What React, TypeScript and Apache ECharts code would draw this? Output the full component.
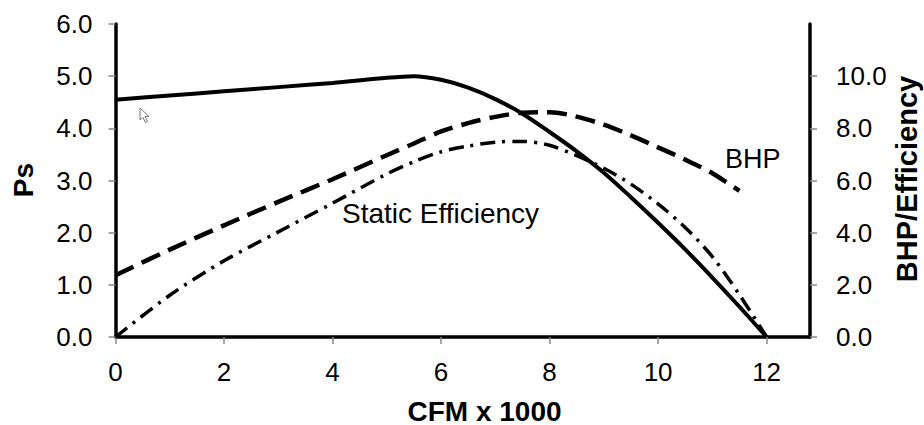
import React, { useEffect, useRef } from 'react';
import * as echarts from 'echarts';

const cfm = [0, 1, 2, 3, 4, 5, 5.5, 6, 6.5, 7, 7.5, 8, 8.5, 9, 9.5, 10, 10.5, 11, 11.5, 12];
const psValues = [4.55, 4.63, 4.71, 4.79, 4.87, 4.97, 5.0, 4.93, 4.78, 4.56, 4.28, 3.93, 3.56, 3.15, 2.68, 2.19, 1.68, 1.14, 0.58, 0];
const bhpValues = [2.37, 3.35, 4.28, 5.18, 6.05, 6.97, 7.42, 7.88, 8.2, 8.44, 8.6, 8.62, 8.45, 8.14, 7.73, 7.27, 6.8, 6.28, 5.6];
const effValues = [0, 1.6, 2.92, 4.03, 5.13, 6.25, 6.72, 7.1, 7.32, 7.47, 7.5, 7.35, 6.95, 6.47, 5.86, 5.1, 4.2, 3.08, 1.62, 0];
const xTicks = [0, 2, 4, 6, 8, 10, 12];
const rightTicks = [0, 2, 4, 6, 8, 10];

const FONT = '"Liberation Sans", Arial, sans-serif';

export default function App() {
  const ref = useRef<HTMLDivElement>(null);
  useEffect(() => {
    if (!ref.current) return;
    const chart = echarts.init(ref.current, null, { renderer: 'svg' });
    const pair = (vals: number[]) => vals.map((v, i) => [cfm[i], v]);
    const tickStyle = { show: true, length: 7, lineStyle: { color: '#888', width: 1.5 } };
    const lineAxis = { show: true, lineStyle: { color: '#000', width: 3.5 } };
    const labelBase = { fontSize: 26, color: '#000', fontFamily: FONT };
    chart.setOption({
      animation: false,
      backgroundColor: '#fff',
      grid: { left: 115.5, right: 114, top: 24, bottom: 88 },
      xAxis: {
        type: 'value', min: 0, max: 12.8, interval: 2,
        axisLine: lineAxis,
        axisTick: { ...tickStyle, customValues: xTicks },
        axisLabel: { ...labelBase, margin: 22, customValues: xTicks },
        splitLine: { show: false },
      },
      yAxis: [
        {
          type: 'value', min: 0, max: 6, interval: 1, position: 'left',
          axisLine: lineAxis,
          axisTick: tickStyle,
          axisLabel: { ...labelBase, margin: 23, formatter: (v: number) => v.toFixed(1) },
          splitLine: { show: false },
        },
        {
          type: 'value', min: 0, max: 12, interval: 2, position: 'right',
          axisLine: lineAxis,
          axisTick: { ...tickStyle, customValues: rightTicks },
          axisLabel: { ...labelBase, margin: 26, customValues: rightTicks, formatter: (v: number) => v.toFixed(1) },
          splitLine: { show: false },
        },
      ],
      series: [
        {
          name: 'BHP', type: 'line', yAxisIndex: 1, data: pair(bhpValues), smooth: 0.3,
          showSymbol: false, lineStyle: { color: '#000', width: 4.5, type: [20, 9] }, z: 2,
        },
        {
          name: 'Static Efficiency', type: 'line', yAxisIndex: 1, data: pair(effValues), smooth: 0.3,
          showSymbol: false, lineStyle: { color: '#000', width: 3.5, type: [15, 7, 3, 7] }, z: 2,
        },
        {
          name: 'Ps', type: 'line', yAxisIndex: 0, data: pair(psValues), smooth: 0.3,
          showSymbol: false, lineStyle: { color: '#000', width: 4 }, z: 3,
        },
      ],
      graphic: [
        { type: 'text', x: 342, y: 213, style: { text: 'Static Efficiency', font: `28px ${FONT}`, fill: '#000', textAlign: 'left', textVerticalAlign: 'middle' } },
        { type: 'text', x: 725, y: 159, style: { text: 'BHP', font: `27px ${FONT}`, fill: '#000', textAlign: 'left', textVerticalAlign: 'middle' } },
        { type: 'text', x: 484.5, y: 411, style: { text: 'CFM x 1000', font: `bold 28px ${FONT}`, fill: '#000', textAlign: 'center', textVerticalAlign: 'middle' } },
        { type: 'text', x: 23, y: 180, rotation: Math.PI / 2, style: { text: 'Ps', font: `bold 28px ${FONT}`, fill: '#000', textAlign: 'center', textVerticalAlign: 'middle' } },
        { type: 'text', x: 907, y: 179, rotation: Math.PI / 2, style: { text: 'BHP/Efficiency', font: `bold 29px ${FONT}`, fill: '#000', textAlign: 'center', textVerticalAlign: 'middle' } },
        { type: 'polygon', shape: { points: [[140, 108], [140, 120], [143, 117.5], [145.5, 122.5], [147.5, 121.5], [145, 116.5], [149, 116.5]] }, style: { fill: '#fff', stroke: '#777', lineWidth: 1 } },
      ],
    });
    return () => chart.dispose();
  }, []);
  return <div ref={ref} style={{ position: 'fixed', left: 0, top: 0, width: 924, height: 425 }} />;
}
